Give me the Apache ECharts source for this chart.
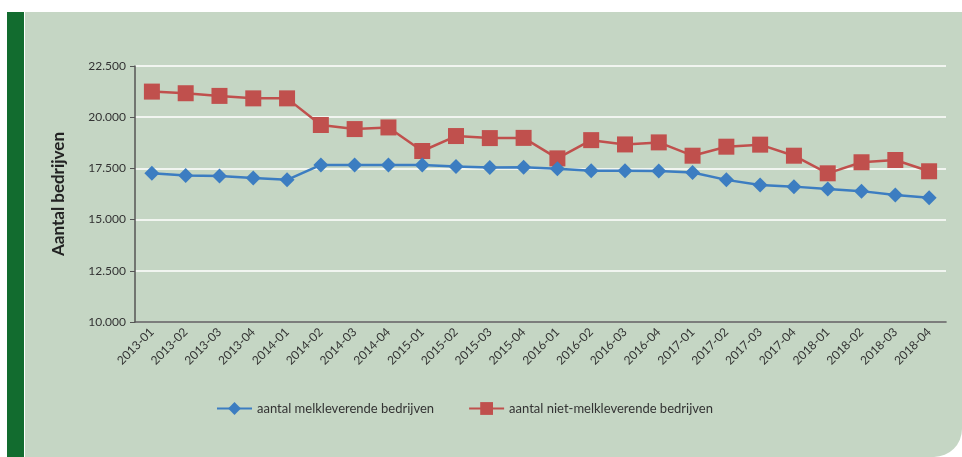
<!DOCTYPE html>
<html>
<head>
<meta charset="utf-8">
<script src="https://cdn.jsdelivr.net/npm/echarts@6/dist/echarts.min.js"></script>
<style>
html, body { margin: 0; padding: 0; background: #fff; }
#chart { width: 962px; height: 457px; }
</style>
</head>
<body>
<div id="chart"></div>
<script>
var categories = ['2013-01', '2013-02', '2013-03', '2013-04', '2014-01', '2014-02', '2014-03', '2014-04',
	'2015-01', '2015-02', '2015-03', '2015-04', '2016-01', '2016-02', '2016-03', '2016-04',
	'2017-01', '2017-02', '2017-03', '2017-04', '2018-01', '2018-02', '2018-03', '2018-04'];
var melkleverend = [17260, 17150, 17130, 17030, 16940, 17670, 17670, 17670,
	17670, 17590, 17550, 17560, 17480, 17380, 17390, 17370,
	17300, 16940, 16690, 16610, 16500, 16390, 16200, 16070];
var nietMelkleverend = [21250, 21170, 21040, 20920, 20920, 19620, 19420, 19500,
	18350, 19080, 18980, 18990, 17990, 18880, 18670, 18770,
	18120, 18560, 18660, 18120, 17260, 17800, 17910, 17360];
var seriesNames = ['aantal melkleverende bedrijven', 'aantal niet-melkleverende bedrijven'];

var fontFamily = 'Lato, "DejaVu Sans", sans-serif';

var chart = echarts.init(document.getElementById('chart'));
chart.setOption({
	animation : false,
	textStyle : {
		fontFamily : fontFamily
	},
	graphic : [ {
		type : 'rect',
		z : -10,
		shape : { x : 25, y : 12, width : 937, height : 445, r : [ 0, 0, 28, 0 ] },
		style : { fill : '#c5d6c4' }
	}, {
		type : 'rect',
		z : -10,
		shape : { x : 7, y : 12, width : 17, height : 445 },
		style : { fill : '#126c2f' }
	} ],
	grid : {
		left : 135,
		right : 16,
		top : 66,
		bottom : 135
	},
	legend : {
		left : 211,
		top : 397,
		itemWidth : 35,
		itemHeight : 16,
		itemGap : 34,
		textStyle : {
			fontSize : 13,
			color : '#333',
			fontFamily : fontFamily
		},
		data : seriesNames
	},
	xAxis : {
		type : 'category',
		data : categories,
		axisLine : { lineStyle : { color : '#555', width : 1.5 } },
		axisTick : { length : 5, lineStyle : { color : '#555' } },
		axisLabel : {
			rotate : 45,
			fontSize : 12,
			color : '#333',
			margin : 8
		}
	},
	yAxis : {
		type : 'value',
		min : 10000,
		max : 22500,
		interval : 2500,
		name : 'Aantal bedrijven',
		nameLocation : 'middle',
		nameGap : 68,
		nameTextStyle : {
			fontSize : 17,
			fontWeight : 'bold',
			color : '#222',
			fontFamily : fontFamily
		},
		axisLine : { show : true, lineStyle : { color : '#555', width : 1.5 } },
		axisTick : { show : true, length : 5, lineStyle : { color : '#555' } },
		axisLabel : {
			fontSize : 12,
			color : '#333',
			margin : 9,
			formatter : function(v) {
				return String(v).replace(/\B(?=(\d{3})+(?!\d))/g, '.');
			}
		},
		splitLine : { lineStyle : { color : '#ffffff', width : 1.5 } }
	},
	series : [ {
		name : seriesNames[0],
		type : 'line',
		data : melkleverend,
		symbol : 'diamond',
		symbolSize : 15,
		color : '#3c7dc1',
		lineStyle : { width : 2.5 },
		z : 3
	}, {
		name : seriesNames[1],
		type : 'line',
		data : nietMelkleverend,
		symbol : 'rect',
		symbolSize : 16,
		color : '#c0504d',
		lineStyle : { width : 2.5 },
		z : 2
	} ]
});
</script>
</body>
</html>
